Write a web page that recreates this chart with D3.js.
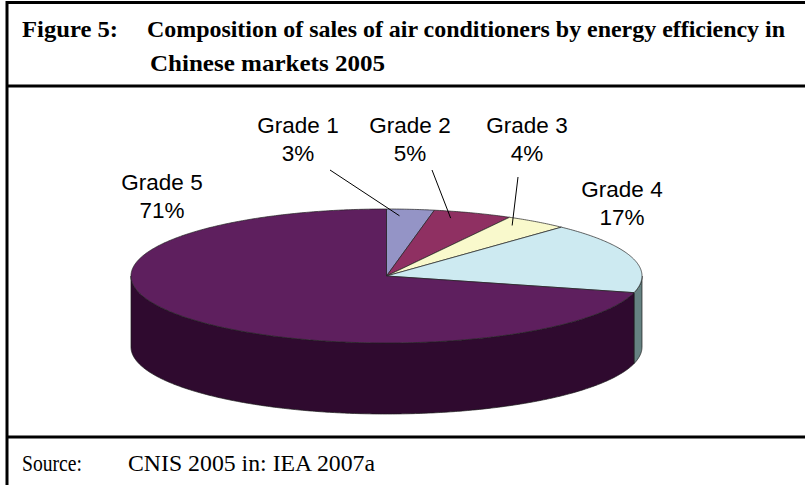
<!DOCTYPE html>
<html lang="en">
<head>
<meta charset="UTF-8">
<title>Figure 5</title>
<script src="https://d3js.org/d3.v7.min.js"></script>
<style>
  body { margin: 0; background: #fff; }
  svg { display: block; }
</style>
</head>
<body>
<svg width="805" height="485"></svg>
<script>
// data
var grades = ["Grade 1", "Grade 2", "Grade 3", "Grade 4", "Grade 5"];
var shares = [3, 5, 4, 17, 71];
var titleNumber = "Figure 5:";
var titleLines = ["Composition of sales of air conditioners by energy efficiency in", "Chinese markets 2005"];
var sourceLabel = "Source:";
var sourceText = "CNIS 2005 in: IEA 2007a";

// styles
var topColors = ["#9494c6", "#8f3062", "#f9f9cc", "#cdeaf1", "#5e1f5e"];
var sideColors = ["#4a4a63", "#471830", "#7c7c66", "#668282", "#2f0a2f"];

// label layout (first-line baseline) and leader start
var labelAt = [[298, 133], [410, 133], [527, 133], [622, 197], [162, 190]];
var leaderFrom = [[330, 170], [432, 170], [518, 177], null, null];

var svg = d3.select("svg");

// frame
svg.append("path")
    .attr("d", "M7,485 V2.5 H805 M7,86 H805 M7,437 H805")
    .attr("fill", "none").attr("stroke", "#000").attr("stroke-width", 3);

// title
var tf = "'Liberation Serif', 'Times New Roman', serif";
svg.append("text").attr("x", 22).attr("y", 37)
    .attr("font-family", tf).attr("font-weight", "bold").attr("font-size", 24)
    .attr("textLength", 96).attr("lengthAdjust", "spacingAndGlyphs")
    .text(titleNumber);
svg.append("text").attr("x", 147).attr("y", 37)
    .attr("font-family", tf).attr("font-weight", "bold").attr("font-size", 24)
    .attr("textLength", 638).attr("lengthAdjust", "spacingAndGlyphs")
    .text(titleLines[0]);
svg.append("text").attr("x", 150).attr("y", 71)
    .attr("font-family", tf).attr("font-weight", "bold").attr("font-size", 24)
    .attr("textLength", 235).attr("lengthAdjust", "spacingAndGlyphs")
    .text(titleLines[1]);

// source
svg.append("text").attr("x", 22).attr("y", 471)
    .attr("font-family", tf).attr("font-size", 23)
    .attr("textLength", 60).attr("lengthAdjust", "spacingAndGlyphs")
    .text(sourceLabel);
svg.append("text").attr("x", 128).attr("y", 471)
    .attr("font-family", tf).attr("font-size", 23)
    .attr("textLength", 247).attr("lengthAdjust", "spacingAndGlyphs")
    .text(sourceText);

// 3D pie
var cx = 386.5, cy = 276, rx = 255.5, ry = 67, depth = 71;

var pie = d3.pie().sort(null).value(function (d) { return d; });
var arcs = pie(shares);

function pt(a, r, dy) {
    r = r == null ? 1 : r;
    return [cx + rx * r * Math.sin(a), cy - ry * r * Math.cos(a) + (dy || 0)];
}

function arcPoints(a0, a1, dy) {
    var n = Math.max(2, Math.ceil(Math.abs(a1 - a0) / 0.01));
    var pts = [];
    for (var i = 0; i <= n; i++) pts.push(pt(a0 + (a1 - a0) * i / n, 1, dy));
    return pts;
}

var g = svg.append("g");

// side walls (front half only)
arcs.forEach(function (d, i) {
    var a0 = Math.max(d.startAngle, Math.PI / 2);
    var a1 = Math.min(d.endAngle, 3 * Math.PI / 2);
    if (a1 <= a0) return;
    var pts = arcPoints(a0, a1, 0).concat(arcPoints(a1, a0, depth));
    g.append("path")
        .attr("d", d3.line()(pts) + "Z")
        .attr("fill", sideColors[i])
        .attr("stroke", "#1a1a1a").attr("stroke-width", 0.7)
        .attr("stroke-linejoin", "round");
});

// top faces
arcs.forEach(function (d, i) {
    var pts = [[cx, cy]].concat(arcPoints(d.startAngle, d.endAngle, 0));
    g.append("path")
        .attr("d", d3.line()(pts) + "Z")
        .attr("fill", topColors[i])
        .attr("stroke", "#222").attr("stroke-width", 0.7)
        .attr("stroke-linejoin", "round");
});

// labels
var lf = "Arial, 'Liberation Sans', sans-serif";
arcs.forEach(function (d, i) {
    var p = labelAt[i];
    var t = svg.append("text")
        .attr("font-family", lf).attr("font-size", 22.5)
        .attr("text-anchor", "middle").attr("fill", "#000");
    t.append("tspan").attr("x", p[0]).attr("y", p[1]).text(grades[i]);
    t.append("tspan").attr("x", p[0]).attr("y", p[1] + 28).text(d3.format(".0%")(d.data / 100));

    if (leaderFrom[i]) {
        var a = d.startAngle + 0.3 * (d.endAngle - d.startAngle);
        var e = pt(a, 0.9);
        svg.append("line")
            .attr("x1", leaderFrom[i][0]).attr("y1", leaderFrom[i][1])
            .attr("x2", e[0]).attr("y2", e[1])
            .attr("stroke", "#000").attr("stroke-width", 1);
    }
});
</script>
</body>
</html>
